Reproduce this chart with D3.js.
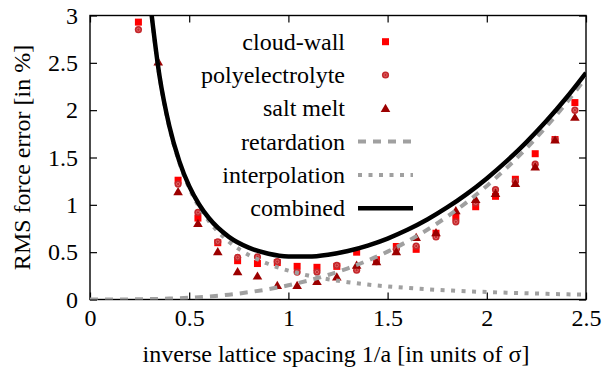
<!DOCTYPE html>
<html>
<head>
<meta charset="utf-8">
<script src="https://cdn.jsdelivr.net/npm/d3@7"></script>
<style>
  body { margin: 0; background: #fff; }
  text { font-family: "Liberation Serif", "Times New Roman", serif; }
</style>
</head>
<body>
<script>
// measured points: x = inverse lattice spacing, one value per series
var dataX = [0.244, 0.344, 0.444, 0.544, 0.644, 0.744, 0.844, 0.944, 1.044, 1.144,
             1.244, 1.344, 1.444, 1.544, 1.644, 1.744, 1.844, 1.944, 2.044, 2.144,
             2.244, 2.344, 2.444];
var cloudWall = [2.93, null, 1.26, 0.86, 0.60, 0.41, 0.38, 0.39, 0.35, 0.34,
                 0.35, 0.50, 0.42, 0.56, 0.53, 0.70, 0.87, 0.98, 1.09, 1.27,
                 1.54, 1.69, 2.08];
var polyelectrolyte = [2.85, null, 1.22, 0.92, 0.61, 0.445, 0.45, 0.40, 0.29, 0.29,
                       0.36, 0.31, 0.40, 0.53, 0.565, 0.66, 0.82, 1.02, 1.16, 1.25,
                       1.43, 1.69, 2.0];
var saltMelt = [null, 2.51, 1.14, 0.805, 0.505, 0.294, 0.248, 0.15, 0.15, 0.19,
                0.24, 0.364, 0.40, 0.505, 0.657, 0.706, 0.938, 1.058, 1.12, 1.227,
                1.40, 1.685, 1.925];

// error estimate curves
var retX = [0, 0.1, 0.2, 0.3, 0.4, 0.5, 0.6, 0.7, 0.8, 0.9, 1.0, 1.1, 1.2, 1.3,
            1.4, 1.5, 1.6, 1.7, 1.8, 1.9, 2.0, 2.1, 2.2, 2.3, 2.4, 2.5];
var retardation = [0, 0.0002, 0.0012, 0.004, 0.0096, 0.019, 0.032, 0.051, 0.077, 0.109,
                   0.150, 0.200, 0.259, 0.330, 0.412, 0.506, 0.614, 0.737, 0.875, 1.029,
                   1.200, 1.389, 1.597, 1.825, 2.074, 2.344];
var curveX = [0.3, 0.35, 0.4, 0.45, 0.5, 0.55, 0.6, 0.7, 0.8, 0.9, 1.0, 1.1, 1.2,
              1.3, 1.4, 1.5, 1.6, 1.7, 1.8, 1.9, 2.0, 2.1, 2.2, 2.3, 2.4, 2.5];
var interpolation = [3.19, 2.36, 1.82, 1.448, 1.178, 0.979, 0.826, 0.611, 0.471, 0.375,
                     0.305, 0.253, 0.214, 0.183, 0.158, 0.138, 0.122, 0.108, 0.097, 0.087,
                     0.079, 0.072, 0.066, 0.060, 0.055, 0.051];
var combined = [3.194, 2.366, 1.830, 1.462, 1.197, 1.004, 0.858, 0.662, 0.548, 0.484,
                0.455, 0.453, 0.473, 0.513, 0.570, 0.644, 0.736, 0.845, 0.972, 1.116,
                1.279, 1.461, 1.663, 1.885, 2.129, 2.395];

var xTicks = [0, 0.5, 1, 1.5, 2, 2.5];
var yTicks = [0, 0.5, 1, 1.5, 2, 2.5, 3];
var legendNames = ['cloud-wall', 'polyelectrolyte', 'salt melt', 'retardation', 'interpolation', 'combined'];

var w = 604, h = 372;
var pLeft = 90, pRight = 586, pTop = 15.5, pBottom = 299.5;

var svg = d3.select('body').append('svg')
            .attr('width', w)
            .attr('height', h);

var xScale = d3.scaleLinear().domain([0, 2.5]).range([pLeft, pRight]);
var yScale = d3.scaleLinear().domain([0, 3]).range([pBottom, pTop]);

svg.append('clipPath').attr('id', 'plot')
   .append('rect')
   .attr('x', pLeft).attr('y', pTop)
   .attr('width', pRight - pLeft).attr('height', pBottom - pTop);

// axes, ticks pointing inwards and mirrored on top / right
function fmt(d) { return d3.format('')(d); }
var gx = svg.append('g').attr('transform', 'translate(0,' + pBottom + ')')
   .call(d3.axisBottom(xScale).tickValues(xTicks).tickFormat(fmt).tickSize(-7).tickPadding(9));
var gxt = svg.append('g').attr('transform', 'translate(0,' + pTop + ')')
   .call(d3.axisTop(xScale).tickValues(xTicks).tickFormat('').tickSize(-7));
var gy = svg.append('g').attr('transform', 'translate(' + pLeft + ',0)')
   .call(d3.axisLeft(yScale).tickValues(yTicks).tickFormat(fmt).tickSize(-7).tickPadding(12));
var gyr = svg.append('g').attr('transform', 'translate(' + pRight + ',0)')
   .call(d3.axisRight(yScale).tickValues(yTicks).tickFormat('').tickSize(-7));

[gx, gxt, gy, gyr].forEach(function(g) {
  g.select('.domain').remove();
  g.selectAll('line').attr('stroke', '#000').attr('stroke-width', 1.2);
  g.selectAll('text').attr('font-size', '24px').attr('fill', '#000')
   .style('font-family', '"Liberation Serif", serif');
});

svg.append('rect')
   .attr('x', pLeft).attr('y', pTop)
   .attr('width', pRight - pLeft).attr('height', pBottom - pTop)
   .attr('fill', 'none').attr('stroke', '#000').attr('stroke-width', 1.4);

// axis titles
svg.append('text')
   .attr('x', (pLeft + pRight) / 2 - 2).attr('y', 362)
   .attr('text-anchor', 'middle').attr('font-size', '24px')
   .text('inverse lattice spacing 1/a [in units of σ]');
svg.append('text')
   .attr('transform', 'translate(30,' + ((pTop + pBottom) / 2) + ') rotate(-90)')
   .attr('text-anchor', 'middle').attr('font-size', '24px')
   .text('RMS force error [in %]');

var plot = svg.append('g').attr('clip-path', 'url(#plot)');

// marker painters
var sqColor = '#ff0000', ciColor = '#c4282c', trColor = '#9c0000';
function square(g, cx, cy) {
  g.append('rect').attr('x', cx - 3.5).attr('y', cy - 3.5)
   .attr('width', 7).attr('height', 7).attr('fill', sqColor);
}
function circle(g, cx, cy) {
  g.append('circle').attr('cx', cx).attr('cy', cy).attr('r', 3.6).attr('fill', ciColor);
  g.append('circle').attr('cx', cx).attr('cy', cy).attr('r', 1.6)
   .attr('fill', 'none').attr('stroke', '#e87878').attr('stroke-width', 0.7);
}
function triangle(g, cx, cy) {
  g.append('path')
   .attr('d', 'M' + (cx - 4.8) + ',' + (cy + 3.6) + 'L' + cx + ',' + (cy - 4.6) +
              'L' + (cx + 4.8) + ',' + (cy + 3.6) + 'Z')
   .attr('fill', trColor);
}

var seriesList = [[cloudWall, square], [polyelectrolyte, circle], [saltMelt, triangle]];
seriesList.forEach(function(s) {
  var g = plot.append('g');
  s[0].forEach(function(v, i) {
    if (v === null) return;
    s[1](g, xScale(dataX[i]), yScale(v));
  });
});

// curves
function lineOf(xs) {
  return d3.line()
    .x(function(d, i) { return xScale(xs[i]); })
    .y(function(d) { return yScale(d); })
    .curve(d3.curveMonotoneX);
}
plot.append('path').datum(retardation)
    .attr('d', lineOf(retX))
    .attr('fill', 'none').attr('stroke', '#a0a0a0').attr('stroke-width', 4)
    .attr('stroke-dasharray', '8,7');
plot.append('path').datum(interpolation)
    .attr('d', lineOf(curveX))
    .attr('fill', 'none').attr('stroke', '#a0a0a0').attr('stroke-width', 4)
    .attr('stroke-dasharray', '4,6.5');
plot.append('path').datum(combined)
    .attr('d', lineOf(curveX))
    .attr('fill', 'none').attr('stroke', '#000').attr('stroke-width', 4.5);

// legend
var legX = 345, sampleX0 = 358, sampleX1 = 413, rowY0 = 41.7, rowStep = 33.3;
var legend = svg.append('g');
legendNames.forEach(function(name, i) {
  var cy = rowY0 + i * rowStep;
  legend.append('text')
        .attr('x', legX).attr('y', cy).attr('dy', '0.33em')
        .attr('text-anchor', 'end').attr('font-size', '24px')
        .text(name);
  var mx = (sampleX0 + sampleX1) / 2;
  if (i === 0) square(legend, mx, cy);
  if (i === 1) circle(legend, mx, cy);
  if (i === 2) triangle(legend, mx, cy);
  if (i >= 3) {
    var ln = legend.append('line')
          .attr('x1', sampleX0).attr('x2', sampleX1)
          .attr('y1', cy).attr('y2', cy);
    if (i === 3) ln.attr('stroke', '#a0a0a0').attr('stroke-width', 4).attr('stroke-dasharray', '8,7');
    if (i === 4) ln.attr('stroke', '#a0a0a0').attr('stroke-width', 4).attr('stroke-dasharray', '4,6.5');
    if (i === 5) ln.attr('stroke', '#000').attr('stroke-width', 4.5);
  }
});
</script>
</body>
</html>
